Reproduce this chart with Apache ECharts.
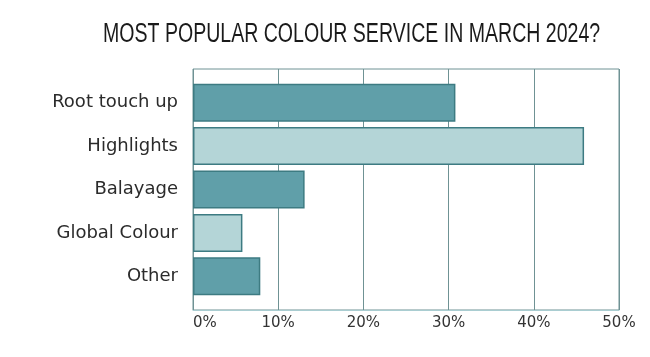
<!DOCTYPE html>
<html>
<head>
<meta charset="utf-8">
<script src="https://cdn.jsdelivr.net/npm/echarts@6/dist/echarts.min.js"></script>
<style>html,body{margin:0;padding:0;background:#fff;}#c{width:650px;height:357px;}</style>
</head>
<body>
<div id="c"></div>
<script>
const categories = ['Root touch up', 'Highlights', 'Balayage', 'Global Colour', 'Other'];
const values = [30.8, 45.9, 13.1, 5.8, 7.9];
const xTicks = [0, 10, 20, 30, 40, 50];
const titleText = 'MOST POPULAR COLOUR SERVICE IN MARCH 2024?';

const DARK = '#609fa9';
const LIGHT = '#b4d5d7';
const EDGE = '#3d7b82';
const GRIDC = '#6f9294';

const chart = echarts.init(document.getElementById('c'), null, {renderer: 'canvas'});
chart.setOption({
  animation: false,
  backgroundColor: '#fff',
  graphic: [{
    type: 'text', left: 103, top: 21, scaleX: 0.724,
    style: {text: titleText, fontFamily: 'Liberation Sans', fontSize: 27, fontWeight: 'normal', fill: '#1a1a1a'}
  }],
  grid: [
    {left: 193, right: 31, top: 69, bottom: 47, show: true, borderColor: GRIDC, borderWidth: 1, backgroundColor: 'transparent'},
    {left: 193, right: 31, top: 81, bottom: 59}
  ],
  xAxis: [
    {
      gridIndex: 0, type: 'value', min: xTicks[0], max: xTicks[xTicks.length - 1], interval: 10,
      axisLine: {show: true, lineStyle: {color: '#a9cdd1', width: 1}},
      axisTick: {show: false},
      splitLine: {show: true, lineStyle: {color: GRIDC, width: 1}},
      axisLabel: {
        formatter: v => v + '%', color: '#333', fontFamily: 'DejaVu Sans', fontSize: 15, margin: 6,
        alignMinLabel: 'left'
      }
    },
    {gridIndex: 1, type: 'value', min: 0, max: 50, show: false}
  ],
  yAxis: [
    {gridIndex: 0, type: 'value', show: false, min: 0, max: 1},
    {
      gridIndex: 1, type: 'category', data: categories, inverse: true,
      axisLine: {show: false}, axisTick: {show: false},
      axisLabel: {color: '#2b2b2b', fontFamily: 'DejaVu Sans', fontSize: 18, margin: 15}
    }
  ],
  series: [{
    type: 'bar', xAxisIndex: 1, yAxisIndex: 1,
    data: values, barWidth: 38,
    itemStyle: {
      color: p => (p.dataIndex % 2 ? LIGHT : DARK),
      borderColor: EDGE, borderWidth: 1.5
    }
  }]
});
</script>
</body>
</html>
